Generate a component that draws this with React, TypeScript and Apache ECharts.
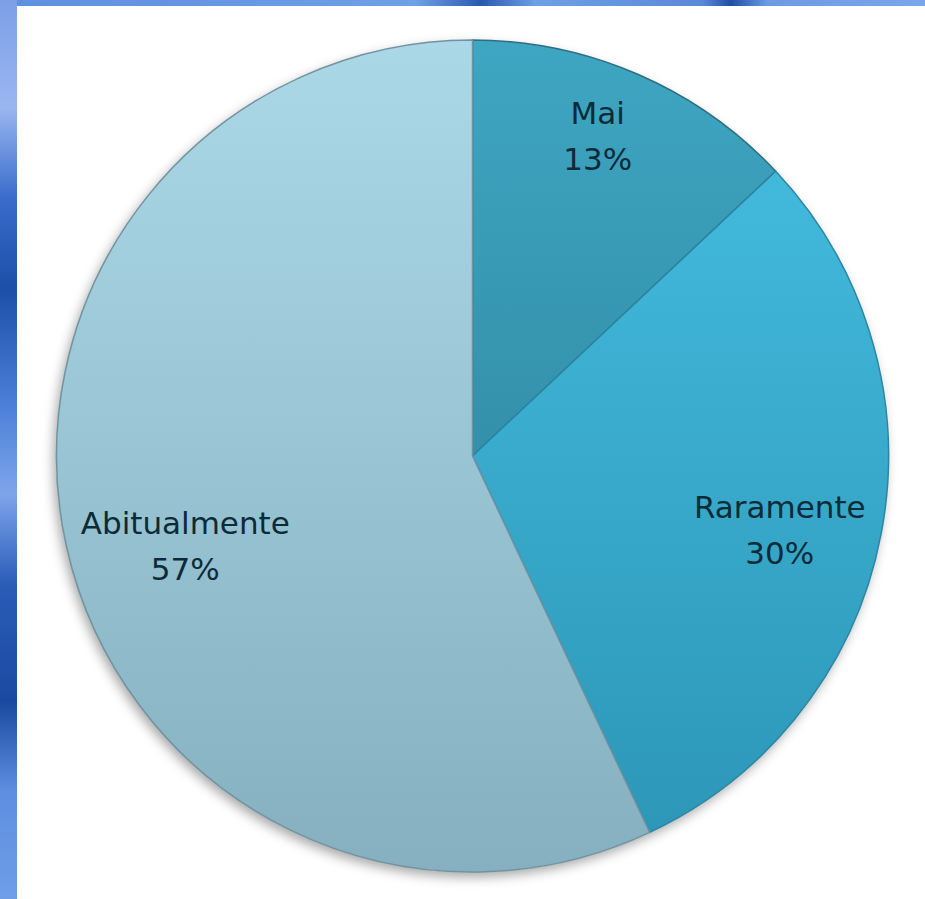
import React, { useEffect, useRef } from "react";
import * as echarts from "echarts";

const categories = ["Mai", "Raramente", "Abitualmente"];
const values = [13, 30, 57];
const topColors = ["#3ea6c2", "#46c0e2", "#abd8e7"];
const bottomColors = ["#2a7a91", "#2c95b6", "#86b0c0"];
const borderColors = ["#2b6f82", "#2a86a4", "#6f93a1"];
const labelShift = [
  [-3, -24],
  [-10, 13],
  [28, 20],
];

export default function App() {
  const ref = useRef<HTMLDivElement>(null);
  useEffect(() => {
    if (!ref.current) return;
    const chart = echarts.init(ref.current, null, { renderer: "svg" });
    const cx = 472.5;
    const cy = 456;
    const r = 416;
    const data = categories.map((name, i) => ({
      name,
      value: values[i],
      itemStyle: {
        color: new echarts.graphic.LinearGradient(0, cy - r, 0, cy + r, [
          { offset: 0, color: topColors[i] },
          { offset: 1, color: bottomColors[i] },
        ], true),
        borderColor: borderColors[i],
        borderWidth: 1.5,
      },
    }));
    chart.setOption({
      animation: false,
      backgroundColor: "#ffffff",
      graphic: [
        {
          type: "rect",
          shape: { x: 0, y: 0, width: 925, height: 6 },
          style: {
            fill: new echarts.graphic.LinearGradient(0, 0, 1, 0, [
              { offset: 0, color: "#5f8fe0" },
              { offset: 0.45, color: "#6f9fe6" },
              { offset: 0.52, color: "#2a58b0" },
              { offset: 0.58, color: "#6f9fe6" },
              { offset: 0.76, color: "#5a88d8" },
              { offset: 0.79, color: "#1e4fa6" },
              { offset: 0.83, color: "#6c9be4" },
              { offset: 1, color: "#7aa6ea" },
            ]),
          },
          silent: true,
        },
        {
          type: "rect",
          shape: { x: 0, y: 0, width: 17, height: 899 },
          style: {
            fill: new echarts.graphic.LinearGradient(0, 0, 0, 1, [
              { offset: 0, color: "#7d9fe8" },
              { offset: 0.12, color: "#9ab6f0" },
              { offset: 0.22, color: "#3a6ccc" },
              { offset: 0.32, color: "#1b4fa8" },
              { offset: 0.45, color: "#4b7fd8" },
              { offset: 0.55, color: "#7ea5ea" },
              { offset: 0.65, color: "#2a5cb8" },
              { offset: 0.78, color: "#1a4aa0" },
              { offset: 0.88, color: "#5d8ee0" },
              { offset: 1, color: "#6f9de6" },
            ]),
          },
          silent: true,
        },
      ],
      series: [
        {
          type: "pie",
          center: [cx, cy],
          radius: [0, r],
          silent: true,
          label: { show: false },
          labelLine: { show: false },
          data: [
            {
              value: 1,
              name: "shadow",
              itemStyle: {
                color: "#ffffff",
                shadowBlur: 12,
                shadowOffsetX: -3,
                shadowOffsetY: 5,
                shadowColor: "rgba(0,0,0,0.35)",
              },
            },
          ],
        },
        {
          type: "pie",
          center: [cx, cy],
          radius: [0, r],
          startAngle: 90,
          clockwise: true,
          silent: true,
          label: { show: false },
          labelLine: { show: false },
          data,
        },
        {
          type: "pie",
          center: [cx, cy],
          radius: [220, 420],
          startAngle: 90,
          clockwise: true,
          silent: true,
          itemStyle: { color: "rgba(0,0,0,0)" },
          labelLine: { show: false },
          label: {
            show: true,
            position: "inside",
            formatter: (p: any) => `${p.name}\n${p.value}%`,
            fontFamily: "DejaVu Sans",
            fontSize: 31,
            lineHeight: 46,
            color: "#0c2b38",
          },
          labelLayout: (p: any) => ({
            dx: labelShift[p.dataIndex][0],
            dy: labelShift[p.dataIndex][1],
          }),
          data: categories.map((name, i) => ({ name, value: values[i] })),
        },
      ],
    });
    return () => chart.dispose();
  }, []);
  return (
    <div
      ref={ref}
      style={{ position: "fixed", left: 0, top: 0, width: 925, height: 899 }}
    />
  );
}
